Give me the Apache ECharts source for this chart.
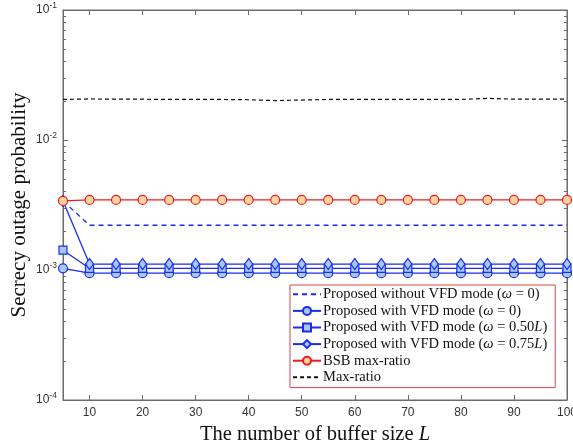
<!DOCTYPE html>
<html><head><meta charset="utf-8">
<script src="https://cdn.jsdelivr.net/npm/echarts@6/dist/echarts.min.js"></script>
<style>html,body{margin:0;padding:0;background:#fff}#c{width:573px;height:443px}</style>
</head><body><div id="c"></div>
<script>
const L = [5,10,15,20,25,30,35,40,45,50,55,60,65,70,75,80,85,90,95,100];
const withoutVFD = [0.0034,0.00221,0.00221,0.00221,0.00221,0.00221,0.00221,0.00221,0.00221,0.00221,0.00221,0.00221,0.00221,0.00221,0.00221,0.00221,0.00221,0.00221,0.00221,0.00221];
const vfd0 = [0.00103,0.000946,0.000946,0.000946,0.000946,0.000946,0.000946,0.000946,0.000946,0.000946,0.000946,0.000946,0.000946,0.000946,0.000946,0.000946,0.000946,0.000946,0.000946,0.000946];
const vfd050 = [0.00142,0.00103,0.00103,0.00103,0.00103,0.00103,0.00103,0.00103,0.00103,0.00103,0.00103,0.00103,0.00103,0.00103,0.00103,0.00103,0.00103,0.00103,0.00103,0.00103];
const vfd075 = [0.0034,0.00111,0.00111,0.00111,0.00111,0.00111,0.00111,0.00111,0.00111,0.00111,0.00111,0.00111,0.00111,0.00111,0.00111,0.00111,0.00111,0.00111,0.00111,0.00111];
const bsb = [0.0034,0.00346,0.00346,0.00346,0.00346,0.00346,0.00346,0.00346,0.00346,0.00346,0.00346,0.00346,0.00346,0.00346,0.00346,0.00346,0.00346,0.00346,0.00346,0.00346];
const maxRatio = [0.0205,0.0207,0.0206,0.0206,0.0205,0.0205,0.0205,0.0204,0.0201,0.0203,0.0205,0.0205,0.0205,0.0205,0.0205,0.0205,0.0209,0.0206,0.0206,0.0206];
const names = [
  'Proposed without VFD mode (ω = 0)',
  'Proposed with VFD mode (ω = 0)',
  'Proposed with VFD mode (ω = 0.50L)',
  'Proposed with VFD mode (ω = 0.75L)',
  'BSB max-ratio',
  'Max-ratio'
];
const majorY = [0.0001,0.001,0.01,0.1];
const minorY = [];
[0.0001,0.001,0.01].forEach(d=>{for(let k=2;k<=9;k++) minorY.push(+(d*k).toPrecision(3));});

const pair = arr => L.map((x,i)=>[x,arr[i]]);
const BLUE = '#1a2cf0', BLUEFILL = '#a8c8f4', RED = '#f21a1a', REDFILL = '#f5d4a2';
const axisCol = '#6b6b6b';
const serif = '"Liberation Serif", "DejaVu Serif", serif';
const sans = '"Liberation Sans", Arial, sans-serif';
const NONE = 'rgba(0,0,0,0)';

const chart = echarts.init(document.getElementById('c'), null, {renderer:'canvas'});
const yBase = {type:'log', logBase:10, min:0.0001, max:0.1, gridIndex:0};
const LH = 16.6;
chart.setOption({
  animation:false,
  backgroundColor:'#fff',
  grid:{left:63, right:6, top:10, bottom:43, containLabel:false, outerBoundsMode:'none',
        show:true, borderColor:axisCol, borderWidth:1, backgroundColor:'transparent'},
  xAxis:[
    {type:'value', min:5, max:100, splitNumber:10, position:'bottom',
     name:'{n|The number of buffer size }{i|L}', nameLocation:'middle', nameGap:23,
     nameTextStyle:{rich:{n:{fontFamily:serif, fontSize:20.5, color:'#111'}, i:{fontFamily:serif, fontSize:20.5, fontStyle:'italic', color:'#111'}}},
     axisLine:{lineStyle:{color:axisCol}}, splitLine:{show:false},
     axisTick:{inside:true, length:5, lineStyle:{color:axisCol}},
     axisLabel:{showMinLabel:false, fontFamily:sans, fontSize:12, color:'#333', margin:7}},
    {type:'value', min:5, max:100, splitNumber:10, position:'top',
     axisLine:{lineStyle:{color:axisCol}}, splitLine:{show:false},
     axisTick:{inside:true, length:5, lineStyle:{color:axisCol}}, axisLabel:{show:false}}
  ],
  yAxis:[
    Object.assign({}, yBase, {position:'left',
     name:'Secrecy outage probability', nameLocation:'middle', nameGap:33, nameMoveOverlap:false,
     nameTextStyle:{fontFamily:serif, fontSize:21, color:'#111'},
     axisLine:{show:true, lineStyle:{color:axisCol}}, splitLine:{show:false},
     axisTick:{inside:true, length:5, lineStyle:{color:axisCol}, customValues:majorY},
     axisLabel:{customValues:majorY, margin:6, formatter:v=>'{b|10}{e|'+Math.round(Math.log10(v))+'}',
       rich:{b:{fontFamily:sans, fontSize:12, color:'#333'}, e:{fontFamily:sans, fontSize:8.5, color:'#333', padding:[0,0,9,0]}}}}),
    Object.assign({}, yBase, {position:'left', offset:0,
     axisLine:{show:false}, splitLine:{show:false},
     axisTick:{inside:true, length:3, lineStyle:{color:axisCol}, customValues:minorY},
     axisLabel:{show:false}}),
    Object.assign({}, yBase, {position:'right',
     axisLine:{show:true, lineStyle:{color:axisCol}}, splitLine:{show:false},
     axisTick:{inside:true, length:5, lineStyle:{color:axisCol}, customValues:majorY},
     axisLabel:{show:false}}),
    Object.assign({}, yBase, {position:'right',
     axisLine:{show:false}, splitLine:{show:false},
     axisTick:{inside:true, length:3, lineStyle:{color:axisCol}, customValues:minorY},
     axisLabel:{show:false}})
  ],
  legend:{
    orient:'vertical', left:290, top:285, width:264,
    backgroundColor:'#fff', borderColor:'#d9474a', borderWidth:1,
    padding:[1,8,2,2], itemWidth:28, itemHeight:10, itemGap:0,
    textStyle:{fontFamily:serif, fontSize:14.5, color:'#111', lineHeight:LH, padding:[0,0,0,-3],
      rich:{n:{fontFamily:serif, fontSize:14.5, color:'#111', lineHeight:LH}, i:{fontFamily:serif, fontSize:14.5, fontStyle:'italic', color:'#111', lineHeight:LH}}},
    formatter:n=>{
      const parts = n.split(/(ω|L\))/);
      return parts.filter(p=>p!=='').map(p=>{
        if(p==='ω') return '{i|ω}';
        if(p==='L)') return '{i|L}{n|)}';
        return '{n|'+p+'}';
      }).join('');
    },
    data:names
  },
  series:[
    {name:names[5], type:'line', data:pair(maxRatio), symbol:'none',
     lineStyle:{color:'#111', width:1.2, type:[4,3]}, itemStyle:{color:NONE, borderWidth:0}, z:2},
    {name:names[0], type:'line', data:pair(withoutVFD), symbol:'none',
     lineStyle:{color:BLUE, width:1.3, type:[5,4]}, itemStyle:{color:NONE, borderWidth:0}, z:3},
    {name:names[1], type:'line', data:pair(vfd0), symbol:'circle', symbolSize:9,
     lineStyle:{color:BLUE, width:1.3}, itemStyle:{color:BLUEFILL, borderColor:BLUE, borderWidth:1.2}, z:4},
    {name:names[2], type:'line', data:pair(vfd050), symbol:'rect', symbolSize:8,
     lineStyle:{color:BLUE, width:1.3}, itemStyle:{color:BLUEFILL, borderColor:BLUE, borderWidth:1.2}, z:4},
    {name:names[3], type:'line', data:pair(vfd075), symbol:'diamond', symbolSize:[8,11],
     lineStyle:{color:BLUE, width:1.3}, itemStyle:{color:BLUEFILL, borderColor:BLUE, borderWidth:1.2}, z:4},
    {name:names[4], type:'line', data:pair(bsb), symbol:'circle', symbolSize:9,
     lineStyle:{color:RED, width:1.3}, itemStyle:{color:REDFILL, borderColor:RED, borderWidth:1.2}, z:5}
  ]
});
</script></body></html>
